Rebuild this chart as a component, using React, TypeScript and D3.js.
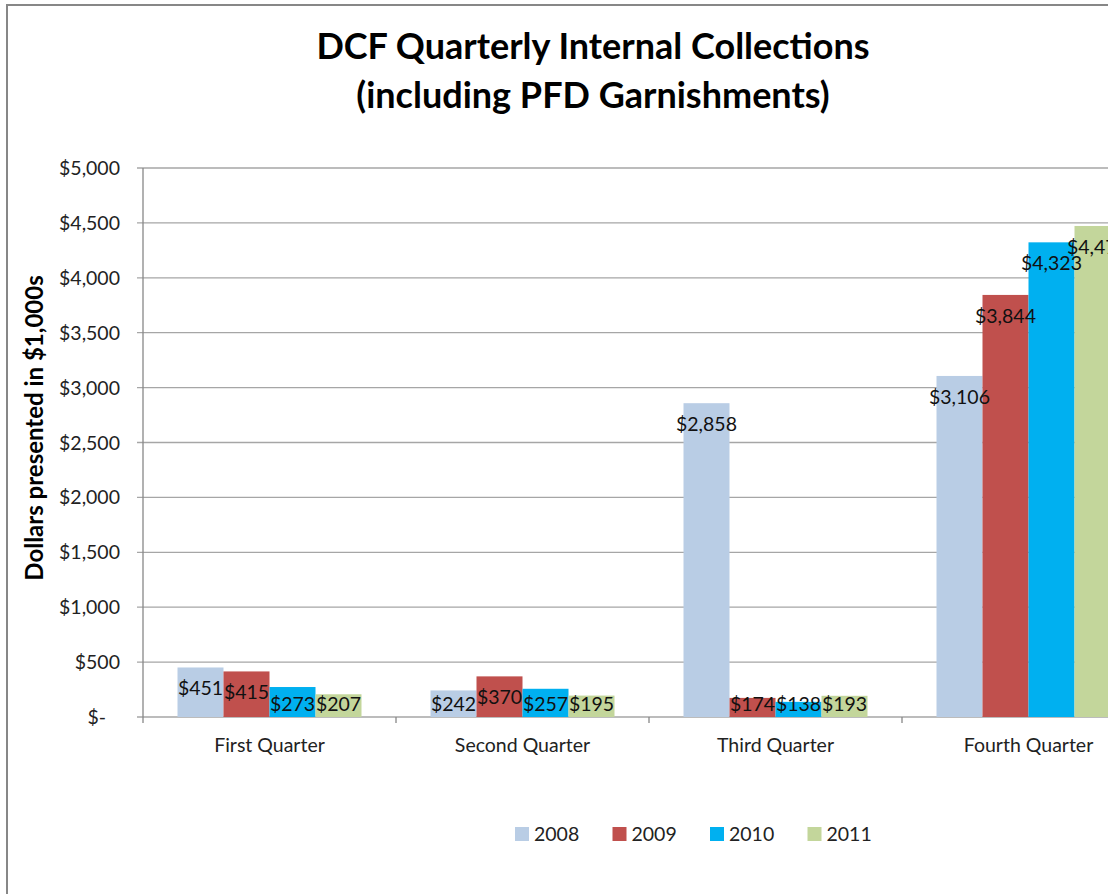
import React from "react";
import * as d3 from "d3";

const categories = ["First Quarter", "Second Quarter", "Third Quarter", "Fourth Quarter"];
const seriesNames = ["2008", "2009", "2010", "2011"];
const values2008 = [451, 242, 2858, 3106];
const values2009 = [415, 370, 174, 3844];
const values2010 = [273, 257, 138, 4323];
const values2011 = [207, 195, 193, 4472];
const seriesColors = ["#B9CDE5", "#C0504D", "#00B0F0", "#C3D69B"];
const yTicks = [0, 500, 1000, 1500, 2000, 2500, 3000, 3500, 4000, 4500, 5000];
const titleLines = ["DCF Quarterly Internal Collections", "(including PFD Garnishments)"];
const yAxisTitle = "Dollars presented in $1,000s";

const FONT = "Lato, 'Liberation Sans', sans-serif";

export default function App() {
  const W = 1108;
  const H = 894;
  const left = 143;
  const top = 168;
  const bottom = 717;
  const bandW = 253;

  const x = d3
    .scaleBand<string>()
    .domain(categories)
    .range([left, left + bandW * categories.length])
    .paddingInner(0)
    .paddingOuter(0);
  const inner = d3
    .scaleBand<string>()
    .domain(seriesNames)
    .range([0, bandW])
    .paddingOuter(0.75)
    .paddingInner(0);
  const y = d3.scaleLinear().domain([0, 5000]).range([bottom, top]);

  const series = [values2008, values2009, values2010, values2011];
  const fmt = (v: number) => (v === 0 ? "$-" : "$" + d3.format(",")(v));
  const right = left + bandW * categories.length;
  const fs = 19.5;

  return (
    <svg
      width={W}
      height={H}
      style={{ position: "absolute", left: 0, top: 0, background: "#fff" }}
      fontFamily={FONT}
    >
      <rect x={7} y={5} width={1180} height={900} fill="#fff" stroke="#878787" strokeWidth={2} />
      {titleLines.map((t, i) => (
        <text
          key={t}
          x={593}
          y={59 + i * 49}
          textAnchor="middle"
          fontWeight="bold"
          fontSize={36}
          fill="#000"
        >
          {t}
        </text>
      ))}
      {/* gridlines */}
      {yTicks.map((t) => (
        <line key={"g" + t} x1={left - 6} x2={right} y1={y(t)} y2={y(t)} stroke="#a6a6a6" strokeWidth={1.3} />
      ))}
      {/* y tick labels */}
      {yTicks.map((t) => (
        <text
          key={"yl" + t}
          x={t === 0 ? 106 : 120}
          y={y(t) + 7}
          textAnchor="end"
          fontSize={fs}
          fill="#222"
        >
          {fmt(t)}
        </text>
      ))}
      {/* y axis */}
      <line x1={left} x2={left} y1={top} y2={bottom} stroke="#878787" strokeWidth={1.3} />
      {/* x ticks */}
      {categories.map((c, i) => (
        <line key={"xt" + c} x1={left + i * bandW} x2={left + i * bandW} y1={bottom} y2={bottom + 6} stroke="#878787" strokeWidth={1.3} />
      ))}
      {/* bars */}
      {categories.map((c, ci) =>
        series.map((vals, si) => {
          const bx = (x(c) as number) + (inner(seriesNames[si]) as number);
          const bw = inner.bandwidth();
          return (
            <rect
              key={c + si}
              x={bx}
              y={y(vals[ci])}
              width={bw}
              height={bottom - y(vals[ci])}
              fill={seriesColors[si]}
            />
          );
        })
      )}
      {/* value labels */}
      {categories.map((c, ci) =>
        series.map((vals, si) => {
          const bx = (x(c) as number) + (inner(seriesNames[si]) as number) + inner.bandwidth() / 2;
          const cy = Math.min(y(vals[ci]) + 21, 704);
          return (
            <text key={"l" + c + si} x={bx} y={cy + 7} textAnchor="middle" fontSize={fs} fill="#111">
              {fmt(vals[ci])}
            </text>
          );
        })
      )}
      {/* category labels */}
      {categories.map((c) => (
        <text
          key={"cl" + c}
          x={(x(c) as number) + bandW / 2}
          y={752}
          textAnchor="middle"
          fontSize={fs}
          fill="#222"
        >
          {c}
        </text>
      ))}
      {/* y axis title */}
      <text
        transform={`translate(43, 428) rotate(-90)`}
        textAnchor="middle"
        fontWeight="bold"
        fontSize={24}
        fill="#000"
      >
        {yAxisTitle}
      </text>
      {/* legend */}
      {seriesNames.map((s, i) => (
        <g key={"lg" + s} transform={`translate(${515 + i * 97.5}, 827)`}>
          <rect x={0} y={0} width={14} height={14} fill={seriesColors[i]} />
          <text x={19} y={14} fontSize={fs} fill="#222">
            {s}
          </text>
        </g>
      ))}
    </svg>
  );
}
